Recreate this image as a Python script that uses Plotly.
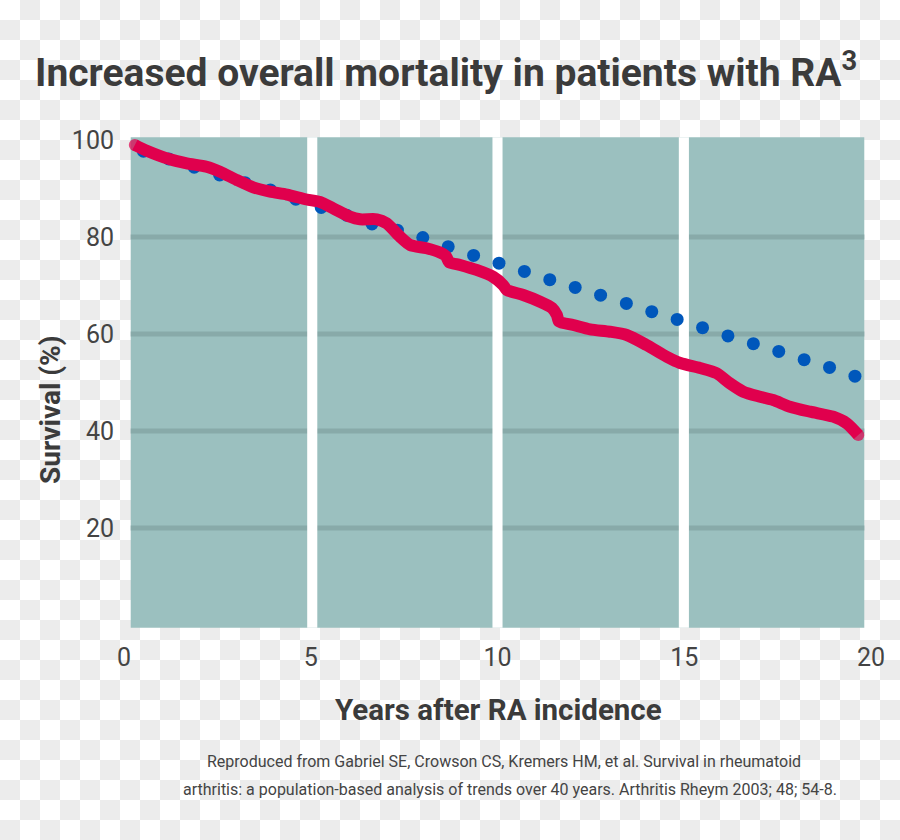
import plotly.graph_objects as go

# ---------------- data ----------------
expected_years = [0.52, 1.20, 1.88, 2.56, 3.24, 3.92, 4.60, 5.28, 5.96, 6.64, 7.32, 8.00,
                  8.68, 9.36, 10.04, 10.72, 11.40, 12.08, 12.76, 13.45, 14.13, 14.81,
                  15.49, 16.17, 16.85, 17.53, 18.21, 18.89, 19.57]
expected_survival = [97.7, 96.1, 94.4, 92.8, 91.2, 89.7, 87.8, 86.1, 84.5, 82.7, 81.4, 79.9,
                     78.0, 76.2, 74.6, 72.9, 71.2, 69.6, 68.0, 66.3, 64.6, 63.0,
                     61.3, 59.6, 58.0, 56.4, 54.7, 53.1, 51.3]

observed_years = [0.29, 0.61, 1.23, 1.68, 2.21, 2.57, 3.02, 3.46, 3.91, 4.36, 4.89, 5.25,
                  5.60, 6.05, 6.32, 6.77, 7.03, 7.39, 7.66, 8.10, 8.46, 8.62, 8.70, 9.00,
                  9.44, 9.89, 10.15, 10.25, 10.69, 11.14, 11.46, 11.59, 11.65, 12.03, 12.48,
                  13.01, 13.46, 13.99, 14.53, 14.89, 15.42, 15.87, 16.22, 16.58, 17.03,
                  17.38, 17.83, 18.37, 18.99, 19.35, 19.66]
observed_survival = [98.97, 97.79, 96.02, 95.20, 94.49, 93.46, 91.75, 90.25, 89.34, 88.76,
                     87.73, 87.22, 85.92, 84.19, 83.65, 83.65, 82.82, 80.06, 78.35, 77.67,
                     76.80, 76.08, 74.85, 74.23, 73.20, 71.75, 70.10, 69.07, 68.04, 66.66,
                     65.36, 63.92, 62.54, 61.86, 60.97, 60.47, 59.79, 57.73, 55.32, 54.02,
                     52.99, 51.90, 49.84, 48.10, 47.07, 46.39, 45.01, 43.98, 42.95, 41.59,
                     39.18]

x_tick_vals = [0, 5, 10, 15, 20]
x_tick_text = ["0", "5", "10", "15", "20"]
y_tick_vals = [20, 40, 60, 80, 100]
y_tick_text = ["20", "40", "60", "80", "100"]
y_grid_vals = [20, 40, 60, 80]
panel_breaks = [5.04, 10.0, 14.99]

title_text = "Increased overall mortality in patients with RA<sup>3</sup>"
x_title = "Years after RA incidence"
y_title = "Survival (%)"
source_lines = ["Reproduced from Gabriel SE, Crowson CS, Kremers HM, et al. Survival in rheumatoid",
                "arthritis: a population-based analysis of trends over 40 years. Arthritis Rheym 2003; 48; 54-8."]

# ---------------- style ----------------
W, H = 900, 840
ML, MR, MT, MB = 124, 20, 130, 200
PW, PH = W - ML - MR, H - MT - MB
TEAL = "#9bc0bf"
GRID = "#88aaa9"
RED = "#e0004d"
BLUE = "#0057bb"
TXT = "#3b3b3b"
CHECK = "#ececec"
FONT = "Roboto, Liberation Sans, sans-serif"
CELL = 20

# checkerboard backdrop (transparency look of the original image): filled
# squares on a hidden full-page axis pair (x, y) underneath the chart
cx, cy = [], []
for r in range(H // CELL + 1):
    for c in range(W // CELL + 1):
        if (r + c) % 2 == 1:
            x0, x1 = c * CELL, (c + 1) * CELL
            y0, y1 = r * CELL, (r + 1) * CELL
            cx += [x0, x1, x1, x0, x0, None]
            cy += [y0, y0, y1, y1, y0, None]

fig = go.Figure()

fig.add_trace(go.Scatter(
    x=cx, y=cy, mode="lines", fill="toself", fillcolor=CHECK,
    line=dict(width=0, color=CHECK), hoverinfo="skip", showlegend=False,
    xaxis="x", yaxis="y"))

fig.add_trace(go.Scatter(
    x=expected_years, y=expected_survival, mode="markers",
    marker=dict(color=BLUE, size=13, line=dict(width=0)),
    hoverinfo="skip", showlegend=False, xaxis="x2", yaxis="y2"))

n = len(observed_years)
fig.add_trace(go.Scatter(
    x=observed_years, y=observed_survival, mode="lines+markers",
    line=dict(color=RED, width=12, shape="spline", smoothing=0.7),
    marker=dict(color=RED, size=[12] + [0] * (n - 2) + [12], line=dict(width=0)),
    hoverinfo="skip", showlegend=False, xaxis="x2", yaxis="y2"))

x_lo, x_hi = 0.18, 19.82
y_lo, y_hi = -0.56, 100.56
shapes = [dict(type="rect", xref="x2", yref="y2", x0=x_lo, x1=x_hi, y0=y_lo, y1=y_hi,
               fillcolor=TEAL, line=dict(width=0), layer="below")]
for g in y_grid_vals:
    shapes.append(dict(type="line", xref="x2", yref="y2", x0=x_lo, x1=x_hi, y0=g, y1=g,
                       line=dict(color=GRID, width=5), layer="below"))
for b in panel_breaks:
    shapes.append(dict(type="rect", xref="x2", yref="y2", x0=b - 0.135, x1=b + 0.135,
                       y0=y_lo, y1=y_hi, fillcolor="#ffffff", line=dict(width=0), layer="below"))

annotations = [
    dict(text=title_text, x=446, y=70, xref="x", yref="y",
         xanchor="center", yanchor="middle", showarrow=False,
         font=dict(family=FONT, size=39, color=TXT, weight="bold")),
    dict(text=x_title, x=498, y=710, xref="x", yref="y",
         xanchor="center", yanchor="middle", showarrow=False,
         font=dict(family=FONT, size=29.5, color=TXT, weight="bold")),
    dict(text=y_title, x=50, y=410, xref="x", yref="y",
         xanchor="center", yanchor="middle", showarrow=False, textangle=-90,
         font=dict(family=FONT, size=28, color=TXT, weight="bold")),
    dict(text=source_lines[0], x=504, y=761, xref="x", yref="y",
         xanchor="center", yanchor="middle", showarrow=False,
         font=dict(family=FONT, size=16, color="#444444")),
    dict(text=source_lines[1], x=510, y=789, xref="x", yref="y",
         xanchor="center", yanchor="middle", showarrow=False,
         font=dict(family=FONT, size=16, color="#444444")),
]

fig.update_layout(
    width=W, height=H,
    margin=dict(l=0, r=0, t=0, b=0, pad=0, autoexpand=False),
    paper_bgcolor="#ffffff", plot_bgcolor="rgba(0,0,0,0)",
    shapes=shapes, annotations=annotations,
    xaxis=dict(domain=[0, 1], range=[0, W], visible=False, fixedrange=True,
               automargin=False),
    yaxis=dict(domain=[0, 1], range=[H, 0], visible=False, fixedrange=True,
               automargin=False),
    xaxis2=dict(domain=[ML / W, 1 - MR / W], anchor="y2", automargin=False,
                range=[0, PW / 37.35], tickvals=x_tick_vals, ticktext=x_tick_text,
                showgrid=False, zeroline=False, showline=False, ticks="",
                tickfont=dict(family=FONT, size=25, color="#444444")),
    yaxis2=dict(domain=[MB / H, 1 - MT / H], anchor="x2", automargin=False,
                range=[-15 / 4.85, 495 / 4.85], tickvals=y_tick_vals, ticktext=y_tick_text,
                showgrid=False, zeroline=False, showline=False, ticks="outside",
                ticklen=4, tickcolor="rgba(0,0,0,0)",
                tickfont=dict(family=FONT, size=25, color="#444444")),
    hovermode=False,
)

fig.write_html("out.html")
